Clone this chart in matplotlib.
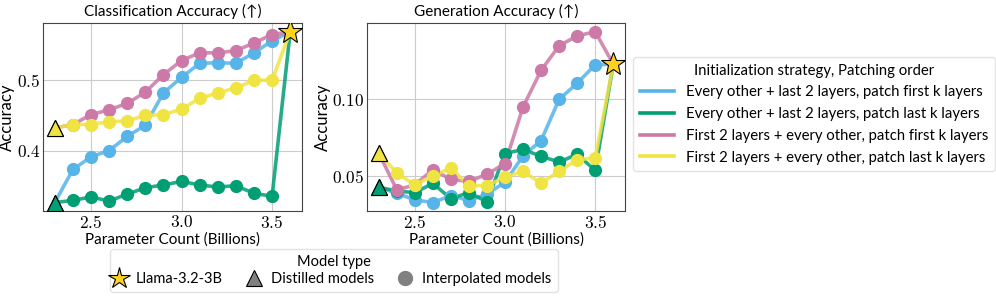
import matplotlib
matplotlib.use("Agg")
import matplotlib.pyplot as plt
from matplotlib.lines import Line2D
from matplotlib.ticker import FuncFormatter, MultipleLocator

plt.rcParams["mathtext.fontset"] = "cm"
plt.rcParams["font.family"] = ["Lato", "DejaVu Sans"]

# x positions: distilled model, interpolated models, original model
x_distilled = 2.3
x_interp = [2.4, 2.5, 2.6, 2.7, 2.8, 2.9, 3.0, 3.1, 3.2, 3.3, 3.4, 3.5]
x_llama = 3.6

series_names = [
    "Every other + last 2 layers, patch first k layers",
    "Every other + last 2 layers, patch last k layers",
    "First 2 layers + every other, patch first k layers",
    "First 2 layers + every other, patch last k layers",
]
colors = ["#56B4E9", "#009E73", "#CC79A7", "#F0E442"]

# classification accuracy
cls_llama = 0.569
cls_distilled = [0.326, 0.326, 0.432, 0.432]
cls_interp = [
    [0.373, 0.391, 0.400, 0.420, 0.436, 0.482, 0.504, 0.524, 0.525, 0.524, 0.539, 0.556],
    [0.329, 0.334, 0.328, 0.338, 0.347, 0.351, 0.356, 0.351, 0.348, 0.350, 0.339, 0.335],
    [0.437, 0.451, 0.458, 0.467, 0.483, 0.508, 0.528, 0.539, 0.539, 0.542, 0.553, 0.565],
    [0.437, 0.437, 0.441, 0.442, 0.450, 0.451, 0.459, 0.474, 0.482, 0.489, 0.500, 0.500],
]

# generation accuracy
gen_llama = 0.123
gen_distilled = [0.0425, 0.0425, 0.0649, 0.0649]
gen_interp = [
    [0.0386, 0.0342, 0.0325, 0.0370, 0.0338, 0.0380, 0.0458, 0.0630, 0.0730, 0.1000, 0.1105, 0.1226],
    [0.0400, 0.0390, 0.0450, 0.0350, 0.0390, 0.0330, 0.0645, 0.0673, 0.0627, 0.0590, 0.0640, 0.0535],
    [0.0408, 0.0440, 0.0540, 0.0476, 0.0463, 0.0510, 0.0580, 0.0950, 0.1190, 0.1350, 0.1415, 0.1442],
    [0.0518, 0.0440, 0.0500, 0.0550, 0.0436, 0.0436, 0.0490, 0.0530, 0.0450, 0.0530, 0.0605, 0.0616],
]

fig = plt.figure(figsize=(9.96, 3.05), dpi=100)
ax1 = fig.add_axes([0.0432, 0.308, 0.260, 0.616])
ax2 = fig.add_axes([0.3685, 0.308, 0.259, 0.616])


def draw(ax, distilled, interp, llama, title, fmt):
    for i in range(4):
        xs = [x_distilled] + x_interp + [x_llama]
        ys = [distilled[i]] + interp[i] + [llama]
        ax.plot(xs, ys, color=colors[i], lw=2.6, alpha=0.85, zorder=2)
        ax.plot(x_interp, interp[i], "o", color=colors[i], ms=8.5, zorder=3)
    for i in range(4):
        ax.plot(x_distilled, distilled[i], "^", color=colors[i], ms=12,
                mec="black", mew=0.8, zorder=4)
    ax.plot(x_llama, llama, "*", color="#FFD21F", ms=18, mec="black",
            mew=0.8, zorder=5)
    ax.set_title(title, fontsize=11, pad=5)
    ax.set_xlabel("Parameter Count (Billions)", fontsize=11, labelpad=1)
    ax.set_ylabel("Accuracy", fontsize=12, labelpad=1)
    ax.xaxis.set_major_locator(MultipleLocator(0.5))
    ax.xaxis.set_major_formatter(FuncFormatter(lambda v, p: f"${v:.1f}$"))
    ax.yaxis.set_major_formatter(FuncFormatter(lambda v, p: ("$" + fmt + "$") % v))
    ax.tick_params(labelsize=12.5, length=0, pad=2)
    ax.grid(True, color="#cccccc", lw=0.8)
    ax.set_axisbelow(True)
    for s in ax.spines.values():
        s.set_color("#444444")


draw(ax1, cls_distilled, cls_interp, cls_llama, "Classification Accuracy (↑)", "%.1f")
ax1.yaxis.set_major_locator(MultipleLocator(0.1))
draw(ax2, gen_distilled, gen_interp, gen_llama, "Generation Accuracy (↑)", "%.2f")
ax2.yaxis.set_major_locator(MultipleLocator(0.05))

h1 = [Line2D([], [], color=c, lw=2.6) for c in colors]
fig.legend(h1, series_names, loc="upper left", bbox_to_anchor=(0.6355, 0.813),
           borderaxespad=0,
           title="Initialization strategy, Patching order", fontsize=10.7,
           title_fontsize=10.7, frameon=True, edgecolor="#dddddd",
           handlelength=2.3, handletextpad=0.8, labelspacing=0.52,
           borderpad=0.45)

h2 = [
    Line2D([], [], ls="", marker="*", color="#FFD21F", mec="black", mew=0.8, ms=16),
    Line2D([], [], ls="", marker="^", color="gray", mec="black", mew=0.8, ms=11),
    Line2D([], [], ls="", marker="o", color="gray", ms=10),
]
fig.legend(h2, ["Llama-3.2-3B", "Distilled models", "Interpolated models"],
           loc="upper center", bbox_to_anchor=(0.335, 0.182), borderaxespad=0,
           ncol=3, title="Model type", fontsize=10.5, title_fontsize=10.5,
           frameon=True, edgecolor="#dddddd", handlelength=0.4,
           handletextpad=1.0, columnspacing=1.9, borderpad=0.4,
           labelspacing=0.2)

fig.savefig("out.png", dpi=100)
